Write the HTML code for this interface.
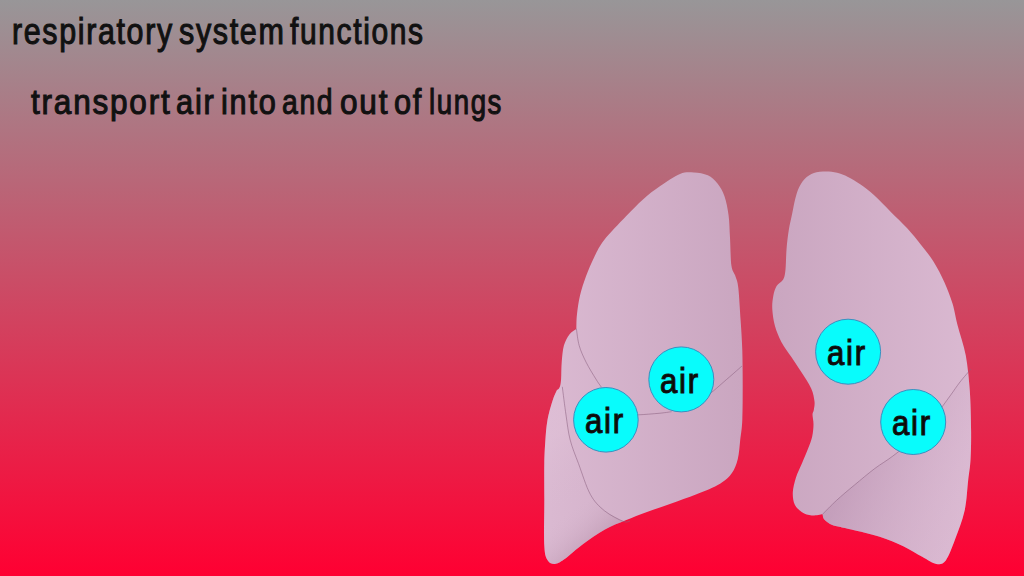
<!DOCTYPE html>
<html><head><meta charset="utf-8">
<style>
html,body{margin:0;padding:0;}
body{width:1024px;height:576px;overflow:hidden;position:relative;
background:linear-gradient(to bottom,#989698 0%,#ff0032 100%);
font-family:"Liberation Sans",sans-serif;}
.t{position:absolute;left:0;top:0;font-size:38px;line-height:1;color:#111;white-space:nowrap;transform-origin:0 0;font-weight:normal;-webkit-text-stroke:1.1px #111;letter-spacing:2px}
svg{position:absolute;left:0;top:0;}
.a{color:#0a0a0a;}
</style></head><body>
<div class="t" style="left:11.7px;top:12.5px;font-size:37px;transform:scaleX(0.822)">respiratory</div>
<div class="t" style="left:178.9px;top:12.5px;font-size:37px;transform:scaleX(0.825)">system</div>
<div class="t" style="left:289.8px;top:12.5px;font-size:37px;transform:scaleX(0.811)">functions</div>
<div class="t" style="left:31.0px;top:83.5px;font-size:35px;transform:scaleX(0.900)">transport</div>
<div class="t" style="left:176.4px;top:83.5px;font-size:35px;transform:scaleX(0.881)">air</div>
<div class="t" style="left:220.7px;top:83.5px;font-size:35px;transform:scaleX(0.877)">into</div>
<div class="t" style="left:282.4px;top:83.5px;font-size:35px;transform:scaleX(0.810)">and</div>
<div class="t" style="left:339.7px;top:83.5px;font-size:35px;transform:scaleX(0.902)">out</div>
<div class="t" style="left:394.4px;top:83.5px;font-size:35px;transform:scaleX(0.877)">of</div>
<div class="t" style="left:428.5px;top:83.5px;font-size:35px;transform:scaleX(0.790)">lungs</div>
<svg width="1024" height="576" viewBox="0 0 1024 576">
<defs>
<linearGradient id="gl" gradientUnits="userSpaceOnUse" x1="550" y1="0" x2="742" y2="0">
<stop offset="0" stop-color="#dab9d1"/><stop offset="1" stop-color="#caa6c0"/>
</linearGradient>
<linearGradient id="gr" gradientUnits="userSpaceOnUse" x1="775" y1="0" x2="971" y2="0">
<stop offset="0" stop-color="#caa6c0"/><stop offset="1" stop-color="#dab9d1"/>
</linearGradient>
<linearGradient id="grl" gradientUnits="userSpaceOnUse" x1="850" y1="470" x2="960" y2="520">
<stop offset="0" stop-color="#b890b0" stop-opacity="0.45"/><stop offset="1" stop-color="#e0c0d8" stop-opacity="0.2"/>
</linearGradient>
<linearGradient id="gll" gradientUnits="userSpaceOnUse" x1="550" y1="440" x2="618" y2="528">
<stop offset="0" stop-color="#e4c6dc" stop-opacity="0.35"/><stop offset="0.6" stop-color="#d8b8d0" stop-opacity="0"/><stop offset="1" stop-color="#a88098" stop-opacity="0.4"/>
</linearGradient>
<clipPath id="cl"><path d="M693.9,172.5 C698.5,172.7 703.9,173.5 707.8,175.3 C711.7,177.2 714.7,180.1 717.5,183.6 C720.3,187.1 722.5,190.8 724.4,196.1 C726.2,201.4 727.7,208.6 728.6,215.6 C729.5,222.6 729.5,229.5 730.0,237.8 C730.5,246.1 730.5,259.1 731.4,265.6 C732.3,272.1 734.5,273.0 735.6,276.7 C736.8,280.4 737.5,280.6 738.3,287.8 C739.1,295.0 739.9,309.6 740.6,320.0 C741.3,330.4 741.9,339.2 742.3,350.0 C742.6,360.8 742.7,373.3 742.7,385.0 C742.7,396.7 742.7,410.8 742.3,420.0 C741.9,429.2 741.0,433.5 740.2,440.0 C739.5,446.5 739.2,453.4 737.8,458.9 C736.4,464.4 734.8,468.9 731.9,473.0 C729.0,477.1 726.0,480.1 720.1,483.7 C714.2,487.2 704.8,491.0 696.5,494.3 C688.2,497.6 678.9,500.8 670.6,503.7 C662.4,506.6 654.5,509.2 647.0,512.0 C639.5,514.8 632.8,517.3 625.7,520.3 C618.6,523.2 611.6,525.8 604.5,529.7 C597.4,533.6 589.9,539.0 583.2,543.9 C576.5,548.8 569.0,555.9 564.3,559.2 C559.6,562.5 557.6,563.7 554.9,563.9 C552.1,564.1 549.6,563.3 547.8,560.4 C546.0,557.5 544.9,556.4 544.3,546.2 C543.7,536.0 544.3,512.8 544.3,499.0 C544.3,485.2 544.1,473.4 544.3,463.6 C544.5,453.8 544.9,447.3 545.4,440.0 C545.9,432.7 546.3,426.7 547.5,420.0 C548.7,413.3 551.2,405.0 552.8,400.0 C554.4,395.0 556.3,391.7 557.0,390.0 C557.5,389.5 559.0,389.1 559.7,387.2 C560.4,385.3 560.8,383.1 561.1,378.9 C561.4,374.7 561.2,367.8 561.7,362.2 C562.2,356.6 562.6,350.2 563.9,345.6 C565.2,341.0 567.3,337.2 569.4,334.4 C571.5,331.6 575.2,329.8 576.4,328.9 C576.5,326.6 576.3,320.6 576.9,315.0 C577.5,309.4 578.5,302.1 580.0,295.6 C581.5,289.1 583.7,282.6 586.1,276.1 C588.5,269.6 591.4,262.7 594.4,256.7 C597.4,250.7 599.0,246.7 604.2,240.0 C609.4,233.3 619.3,223.3 625.8,216.5 C632.3,209.7 637.3,204.5 643.0,199.4 C648.7,194.3 654.0,190.2 660.2,186.0 C666.4,181.8 674.4,176.2 680.0,173.9 C685.6,171.7 689.3,172.3 693.9,172.5 Z"/></clipPath>
<clipPath id="cr"><path d="M826.2,171.5 C829.6,171.6 833.5,171.9 837.1,172.8 C840.7,173.7 844.1,175.1 848.0,177.0 C851.9,178.9 855.9,181.3 860.2,184.3 C864.5,187.3 868.8,190.4 873.9,195.0 C879.0,199.6 885.0,206.1 890.6,211.7 C896.2,217.2 902.1,222.8 907.2,228.3 C912.3,233.9 916.7,239.4 921.1,245.0 C925.5,250.6 929.7,255.4 933.6,261.7 C937.5,267.9 941.4,275.5 944.5,282.5 C947.6,289.5 950.3,296.4 952.5,303.5 C954.7,310.6 955.3,316.3 957.5,325.0 C959.7,333.7 963.8,344.6 965.8,355.6 C967.8,366.6 968.9,378.5 969.8,391.1 C970.7,403.7 971.0,419.6 971.1,431.1 C971.2,442.6 971.0,451.9 970.5,460.0 C970.0,468.1 969.2,471.5 968.2,480.0 C967.2,488.5 966.8,500.9 964.6,510.8 C962.4,520.6 958.3,530.8 955.2,539.1 C952.1,547.4 948.9,556.3 945.8,560.4 C942.6,564.5 940.2,564.5 936.3,563.9 C932.4,563.3 927.7,559.8 922.2,556.8 C916.7,553.8 910.4,549.5 903.3,546.2 C896.2,542.9 888.4,539.6 879.7,536.8 C871.1,534.0 858.4,531.2 851.4,529.5 C844.4,527.8 841.6,527.4 838.0,526.5 C834.4,525.6 832.4,525.1 830.0,523.9 C827.6,522.6 825.1,520.6 823.9,519.0 C822.7,517.4 822.8,515.0 822.6,514.2 C820.8,514.4 815.1,515.7 811.7,515.4 C808.3,515.1 804.8,514.0 802.0,512.2 C799.2,510.4 796.2,507.7 794.7,504.4 C793.2,501.1 792.6,496.8 792.8,492.3 C793.0,487.9 794.4,482.6 795.9,477.7 C797.4,472.8 800.0,468.0 802.0,463.2 C804.0,458.4 806.4,453.1 808.1,448.6 C809.8,444.1 811.3,440.4 812.2,436.4 C813.1,432.3 813.5,427.9 813.5,424.3 C813.5,420.7 812.5,417.0 812.5,414.6 C812.5,412.2 813.5,412.1 813.8,409.9 C814.1,407.7 814.9,405.2 814.5,401.6 C814.1,398.0 813.4,393.3 811.2,388.4 C809.0,383.5 804.6,377.2 801.3,372.0 C798.0,366.8 794.7,362.1 791.4,357.1 C788.1,352.1 784.2,347.4 781.5,342.2 C778.8,337.0 776.4,331.2 774.9,325.7 C773.4,320.2 772.6,314.1 772.3,309.2 C772.0,304.2 772.6,299.9 773.3,296.0 C774.0,292.1 775.0,288.9 776.6,286.1 C778.2,283.4 781.7,282.2 783.2,279.5 C784.7,276.8 785.0,274.6 785.5,269.6 C786.0,264.7 786.0,256.4 786.5,249.8 C787.0,243.2 787.8,236.1 788.8,230.0 C789.8,223.9 791.1,218.7 792.2,213.5 C793.3,208.3 794.0,203.4 795.2,198.9 C796.4,194.4 797.5,190.3 799.4,186.7 C801.3,183.0 803.9,179.4 806.7,177.0 C809.6,174.6 813.2,173.1 816.5,172.2 C819.8,171.3 822.8,171.4 826.2,171.5 Z"/></clipPath>
</defs>
<path fill="url(#gl)" d="M693.9,172.5 C698.5,172.7 703.9,173.5 707.8,175.3 C711.7,177.2 714.7,180.1 717.5,183.6 C720.3,187.1 722.5,190.8 724.4,196.1 C726.2,201.4 727.7,208.6 728.6,215.6 C729.5,222.6 729.5,229.5 730.0,237.8 C730.5,246.1 730.5,259.1 731.4,265.6 C732.3,272.1 734.5,273.0 735.6,276.7 C736.8,280.4 737.5,280.6 738.3,287.8 C739.1,295.0 739.9,309.6 740.6,320.0 C741.3,330.4 741.9,339.2 742.3,350.0 C742.6,360.8 742.7,373.3 742.7,385.0 C742.7,396.7 742.7,410.8 742.3,420.0 C741.9,429.2 741.0,433.5 740.2,440.0 C739.5,446.5 739.2,453.4 737.8,458.9 C736.4,464.4 734.8,468.9 731.9,473.0 C729.0,477.1 726.0,480.1 720.1,483.7 C714.2,487.2 704.8,491.0 696.5,494.3 C688.2,497.6 678.9,500.8 670.6,503.7 C662.4,506.6 654.5,509.2 647.0,512.0 C639.5,514.8 632.8,517.3 625.7,520.3 C618.6,523.2 611.6,525.8 604.5,529.7 C597.4,533.6 589.9,539.0 583.2,543.9 C576.5,548.8 569.0,555.9 564.3,559.2 C559.6,562.5 557.6,563.7 554.9,563.9 C552.1,564.1 549.6,563.3 547.8,560.4 C546.0,557.5 544.9,556.4 544.3,546.2 C543.7,536.0 544.3,512.8 544.3,499.0 C544.3,485.2 544.1,473.4 544.3,463.6 C544.5,453.8 544.9,447.3 545.4,440.0 C545.9,432.7 546.3,426.7 547.5,420.0 C548.7,413.3 551.2,405.0 552.8,400.0 C554.4,395.0 556.3,391.7 557.0,390.0 C557.5,389.5 559.0,389.1 559.7,387.2 C560.4,385.3 560.8,383.1 561.1,378.9 C561.4,374.7 561.2,367.8 561.7,362.2 C562.2,356.6 562.6,350.2 563.9,345.6 C565.2,341.0 567.3,337.2 569.4,334.4 C571.5,331.6 575.2,329.8 576.4,328.9 C576.5,326.6 576.3,320.6 576.9,315.0 C577.5,309.4 578.5,302.1 580.0,295.6 C581.5,289.1 583.7,282.6 586.1,276.1 C588.5,269.6 591.4,262.7 594.4,256.7 C597.4,250.7 599.0,246.7 604.2,240.0 C609.4,233.3 619.3,223.3 625.8,216.5 C632.3,209.7 637.3,204.5 643.0,199.4 C648.7,194.3 654.0,190.2 660.2,186.0 C666.4,181.8 674.4,176.2 680.0,173.9 C685.6,171.7 689.3,172.3 693.9,172.5 Z"/>
<path clip-path="url(#cl)" fill="url(#gll)" d="M562.3,386.8 L566.0,415.0 L570.2,440.0 L578.5,463.6 L590.3,494.3 L604.5,510.8 L623.3,521.4 L630.0,521.0 L640.0,576.0 L520.0,576.0 L520.0,386.8 Z"/>
<path fill="url(#gr)" d="M826.2,171.5 C829.6,171.6 833.5,171.9 837.1,172.8 C840.7,173.7 844.1,175.1 848.0,177.0 C851.9,178.9 855.9,181.3 860.2,184.3 C864.5,187.3 868.8,190.4 873.9,195.0 C879.0,199.6 885.0,206.1 890.6,211.7 C896.2,217.2 902.1,222.8 907.2,228.3 C912.3,233.9 916.7,239.4 921.1,245.0 C925.5,250.6 929.7,255.4 933.6,261.7 C937.5,267.9 941.4,275.5 944.5,282.5 C947.6,289.5 950.3,296.4 952.5,303.5 C954.7,310.6 955.3,316.3 957.5,325.0 C959.7,333.7 963.8,344.6 965.8,355.6 C967.8,366.6 968.9,378.5 969.8,391.1 C970.7,403.7 971.0,419.6 971.1,431.1 C971.2,442.6 971.0,451.9 970.5,460.0 C970.0,468.1 969.2,471.5 968.2,480.0 C967.2,488.5 966.8,500.9 964.6,510.8 C962.4,520.6 958.3,530.8 955.2,539.1 C952.1,547.4 948.9,556.3 945.8,560.4 C942.6,564.5 940.2,564.5 936.3,563.9 C932.4,563.3 927.7,559.8 922.2,556.8 C916.7,553.8 910.4,549.5 903.3,546.2 C896.2,542.9 888.4,539.6 879.7,536.8 C871.1,534.0 858.4,531.2 851.4,529.5 C844.4,527.8 841.6,527.4 838.0,526.5 C834.4,525.6 832.4,525.1 830.0,523.9 C827.6,522.6 825.1,520.6 823.9,519.0 C822.7,517.4 822.8,515.0 822.6,514.2 C820.8,514.4 815.1,515.7 811.7,515.4 C808.3,515.1 804.8,514.0 802.0,512.2 C799.2,510.4 796.2,507.7 794.7,504.4 C793.2,501.1 792.6,496.8 792.8,492.3 C793.0,487.9 794.4,482.6 795.9,477.7 C797.4,472.8 800.0,468.0 802.0,463.2 C804.0,458.4 806.4,453.1 808.1,448.6 C809.8,444.1 811.3,440.4 812.2,436.4 C813.1,432.3 813.5,427.9 813.5,424.3 C813.5,420.7 812.5,417.0 812.5,414.6 C812.5,412.2 813.5,412.1 813.8,409.9 C814.1,407.7 814.9,405.2 814.5,401.6 C814.1,398.0 813.4,393.3 811.2,388.4 C809.0,383.5 804.6,377.2 801.3,372.0 C798.0,366.8 794.7,362.1 791.4,357.1 C788.1,352.1 784.2,347.4 781.5,342.2 C778.8,337.0 776.4,331.2 774.9,325.7 C773.4,320.2 772.6,314.1 772.3,309.2 C772.0,304.2 772.6,299.9 773.3,296.0 C774.0,292.1 775.0,288.9 776.6,286.1 C778.2,283.4 781.7,282.2 783.2,279.5 C784.7,276.8 785.0,274.6 785.5,269.6 C786.0,264.7 786.0,256.4 786.5,249.8 C787.0,243.2 787.8,236.1 788.8,230.0 C789.8,223.9 791.1,218.7 792.2,213.5 C793.3,208.3 794.0,203.4 795.2,198.9 C796.4,194.4 797.5,190.3 799.4,186.7 C801.3,183.0 803.9,179.4 806.7,177.0 C809.6,174.6 813.2,173.1 816.5,172.2 C819.8,171.3 822.8,171.4 826.2,171.5 Z"/>
<path clip-path="url(#cr)" fill="url(#grl)" d="M822.6,514.2 L836.4,500.5 L854.5,485.0 L874.8,468.5 L892.9,456.0 L915.0,438.0 L935.0,416.0 L950.0,396.0 L960.0,382.0 L971.0,369.0 L1000.0,371.0 L1000.0,576.0 L815.0,576.0 Z"/>
<g fill="none" stroke="#8a6080" stroke-opacity="0.55" stroke-width="1">
<path d="M576.4,328.9 C576.9,331.7 577.6,340.1 579.2,345.6 C580.8,351.2 583.3,356.6 586.1,362.2 C588.9,367.8 593.2,374.7 595.8,378.9 C598.3,383.1 600.5,385.8 601.4,387.2"/><path d="M630.0,414.5 C631.5,414.6 634.0,415.0 638.8,414.8 C643.6,414.6 653.5,413.8 659.0,413.3 C664.5,412.8 669.5,412.0 671.6,411.7"/><path d="M705.0,397.0 C706.5,395.9 710.2,393.5 713.8,390.6 C717.3,387.7 722.1,383.3 726.3,379.7 C730.5,376.1 736.2,371.1 738.8,368.8 C741.4,366.5 741.5,366.5 742.0,366.0"/><path d="M562.3,386.8 C562.9,391.5 564.7,406.1 566.0,415.0 C567.3,423.9 568.1,431.9 570.2,440.0 C572.3,448.1 575.1,454.6 578.5,463.6 C581.9,472.7 586.0,486.4 590.3,494.3 C594.6,502.2 599.0,506.3 604.5,510.8 C610.0,515.3 619.0,519.7 623.3,521.4 C627.5,523.1 628.9,521.1 630.0,521.0"/><path d="M822.6,514.2 C824.9,511.9 831.1,505.4 836.4,500.5 C841.7,495.6 848.1,490.3 854.5,485.0 C860.9,479.7 868.4,473.3 874.8,468.5 C881.2,463.7 886.2,461.1 892.9,456.0 C899.6,450.9 908.0,444.7 915.0,438.0 C922.0,431.3 929.2,423.0 935.0,416.0 C940.8,409.0 945.8,401.7 950.0,396.0 C954.2,390.3 956.5,386.5 960.0,382.0 C963.5,377.5 969.2,371.2 971.0,369.0"/>
</g>
<g stroke="#3a8fc0" stroke-width="1" fill="#08fcfc">
<circle cx="681.3" cy="379.4" r="32.5"/>
<circle cx="605.9" cy="419.8" r="32.3"/>
<circle cx="848.1" cy="351.7" r="32.5"/>
<circle cx="913.2" cy="422" r="32.5"/>
</g>
</svg>
<div class="t a" style="left:660.4px;top:362.7px;font-size:35px;transform:scaleX(0.89)">air</div>
<div class="t a" style="left:584.7px;top:402.7px;font-size:35px;transform:scaleX(0.89)">air</div>
<div class="t a" style="left:827.2px;top:335.2px;font-size:35px;transform:scaleX(0.89)">air</div>
<div class="t a" style="left:892.2px;top:404.9px;font-size:35px;transform:scaleX(0.89)">air</div>
</body></html>
